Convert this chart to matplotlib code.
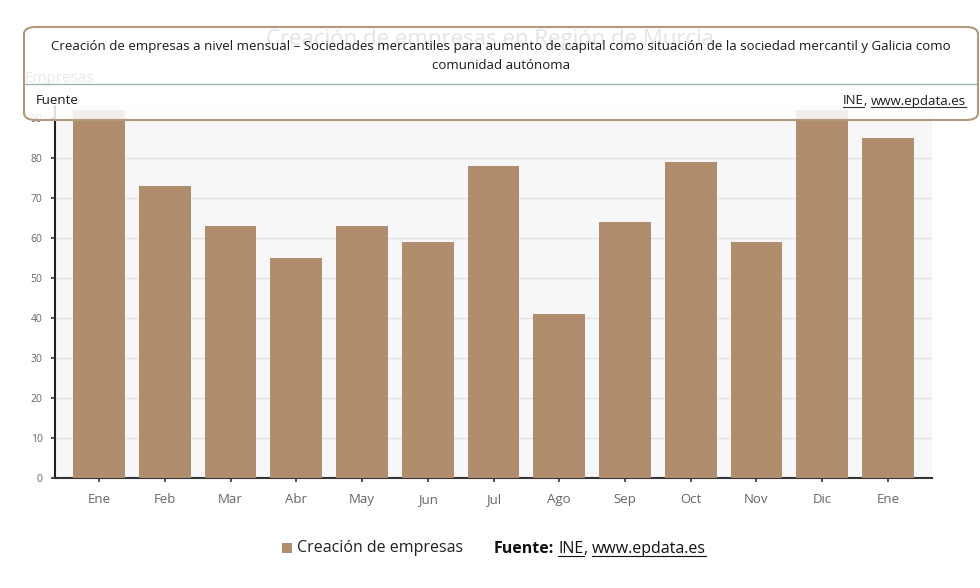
import matplotlib
matplotlib.use("Agg")
import matplotlib.pyplot as plt
from matplotlib.patches import FancyBboxPatch, Rectangle
from matplotlib.lines import Line2D

meses = ["Ene", "Feb", "Mar", "Abr", "May", "Jun", "Jul", "Ago", "Sep", "Oct", "Nov", "Dic", "Ene"]
empresas = [92, 73, 63, 55, 63, 59, 78, 41, 64, 79, 59, 92, 85]
yticks = [0, 10, 20, 30, 40, 50, 60, 70, 80, 90]

titulo = "Creación de empresas en Región de Murcia"
subtitulo = ("Creación de empresas a nivel mensual – Sociedades mercantiles para aumento de capital "
             "como situación de la sociedad mercantil y Galicia como\ncomunidad autónoma")
serie = "Creación de empresas"

W, H = 980, 588
color_bar = "#b08d6c"
font = "Open Sans"

fig = plt.figure(figsize=(W / 100, H / 100), dpi=100)
fig.patch.set_facecolor("white")

def fx(px):
    return px / W

def fy(py):
    return 1 - py / H

# plot area
ax = fig.add_axes([fx(55), fy(478), fx(932 - 55), (478 - 106) / H])
ax.set_facecolor("#f7f7f9")
x = list(range(len(meses)))
ax.bar(x, empresas, width=0.79, color=color_bar, zorder=3)
ax.set_xlim(-0.67, len(meses) - 0.33)
ax.set_ylim(0, 93)
ax.set_yticks(yticks)
ax.set_xticks(x)
ax.set_xticklabels(meses, fontsize=9.5, color="#666666", family=font)
ax.set_yticklabels([str(v) for v in yticks], fontsize=7.5, color="#666666", family=font)
ax.grid(axis="y", color="#e2e2e2", linewidth=1, zorder=0)
for s in ["top", "right"]:
    ax.spines[s].set_visible(False)
ax.spines["left"].set_color("#222222")
ax.spines["left"].set_linewidth(1.5)
ax.spines["bottom"].set_color("#333333")
ax.spines["bottom"].set_linewidth(1.5)
ax.tick_params(axis="both", length=3, width=1.2, color="#333333", pad=8)
ax.tick_params(axis="y", pad=6)

# faded title and axis title behind the box
fig.text(0.5, fy(39), titulo, ha="center", va="center", fontsize=16, color="#444444", family=font)
fig.text(fx(24), fy(79), "Empresas", ha="left", va="center", fontsize=11, color="#666666", family=font)

# header box (semi transparent, the title shows through)
box = FancyBboxPatch((fx(24), fy(120)), fx(978 - 24), (120 - 27) / H,
                     boxstyle="round,pad=0,rounding_size=0.012",
                     transform=fig.transFigure, facecolor="white", alpha=0.86,
                     edgecolor="none", zorder=5)
fig.patches.append(box)
edge = FancyBboxPatch((fx(24), fy(120)), fx(978 - 24), (120 - 27) / H,
                      boxstyle="round,pad=0,rounding_size=0.012",
                      transform=fig.transFigure, facecolor="none",
                      edgecolor="#b09a7c", linewidth=1.5, zorder=6)
fig.patches.append(edge)
fig.lines.append(Line2D([fx(25), fx(977)], [fy(84), fy(84)], transform=fig.transFigure,
                        color="#9fb5b5", linewidth=1, zorder=6))
fig.text(fx(501), fy(56), subtitulo, ha="center", va="center", fontsize=9.5,
         linespacing=1.55, color="#1a1a1a", family=font, zorder=7)
fig.text(fx(36), fy(101), "Fuente", ha="left", va="center", fontsize=9.5,
         color="#1a1a1a", family=font, zorder=7)

fig.canvas.draw()
r = fig.canvas.get_renderer()

def underline(t, color):
    bb = t.get_window_extent(renderer=r)
    yline = bb.y0 + 1
    fig.lines.append(Line2D([bb.x0 / W, bb.x1 / W], [yline / H, yline / H],
                            transform=fig.transFigure, color=color, linewidth=0.8, zorder=8))

# top right source, right aligned
t_web = fig.text(fx(966), fy(101), "www.epdata.es", ha="right", va="center", fontsize=9.5,
                 color="#1a1a1a", family=font, zorder=7)
bb = t_web.get_window_extent(renderer=r)
t_com = fig.text(bb.x0 / W, fy(101), ", ", ha="right", va="center", fontsize=9.5,
                 color="#1a1a1a", family=font, zorder=7)
bb2 = t_com.get_window_extent(renderer=r)
t_ine = fig.text(bb2.x0 / W, fy(101), "INE", ha="right", va="center", fontsize=9.5,
                 color="#1a1a1a", family=font, zorder=7)
fig.canvas.draw()
underline(t_web, "#333333")
underline(t_ine, "#333333")

# legend
fig.patches.append(Rectangle((fx(282), fy(553)), fx(10), 10 / H, transform=fig.transFigure,
                             facecolor=color_bar, edgecolor="none"))
fig.text(fx(297), fy(548), serie, ha="left", va="center", fontsize=11.5, color="#222222", family=font)

# bottom source
tf = fig.text(fx(494), fy(549), "Fuente:", ha="left", va="center", fontsize=11.5,
              fontweight="bold", color="#111111", family=font)
fig.canvas.draw()
bb = tf.get_window_extent(renderer=r)
t1 = fig.text(bb.x1 / W + fx(4), fy(549), "INE", ha="left", va="center", fontsize=11.5,
              color="#111111", family=font)
fig.canvas.draw()
bb = t1.get_window_extent(renderer=r)
t2 = fig.text(bb.x1 / W, fy(549), ", ", ha="left", va="center", fontsize=11.5,
              color="#111111", family=font)
fig.canvas.draw()
bb = t2.get_window_extent(renderer=r)
t3 = fig.text(bb.x1 / W, fy(549), "www.epdata.es", ha="left", va="center", fontsize=11.5,
              color="#111111", family=font)
fig.canvas.draw()
underline(t1, "#111111")
underline(t3, "#111111")

fig.savefig("out.png", dpi=100, facecolor="white")
